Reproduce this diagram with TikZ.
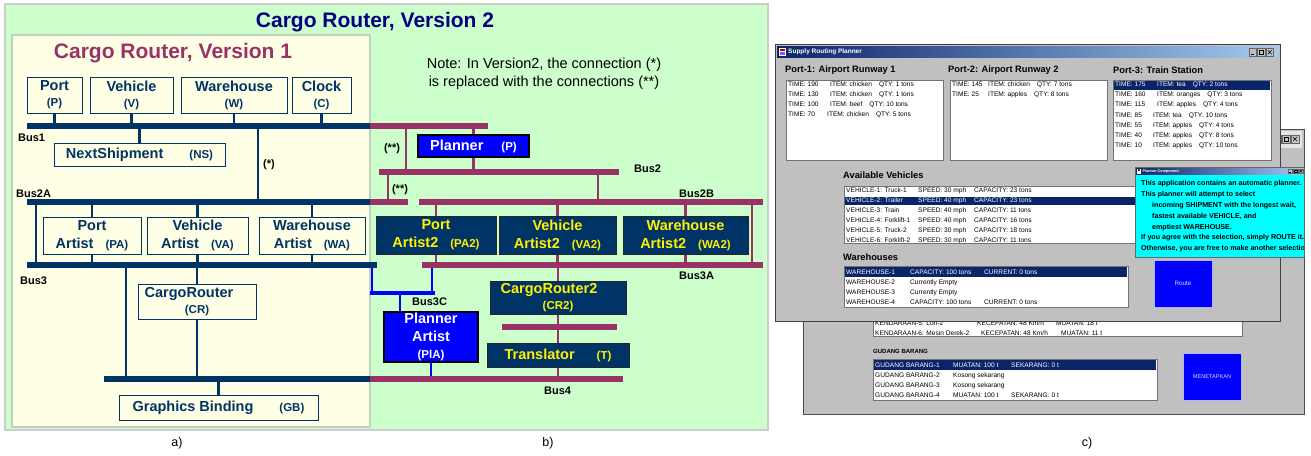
\documentclass[tikz,border=0pt]{standalone}
\usepackage{fontspec}
\setmainfont{Liberation Sans}
\usetikzlibrary{positioning,calc}

\definecolor{mint}{HTML}{CCFFCC}
\definecolor{cream}{HTML}{FFFFE6}
\definecolor{navybus}{HTML}{003366}
\definecolor{plum}{HTML}{993366}
\definecolor{deepnavy}{HTML}{000080}
\definecolor{wingray}{HTML}{C0C0C0}
\definecolor{selrow}{HTML}{0A246A}
\definecolor{capfade}{HTML}{A6CAF0}
\definecolor{aqua}{HTML}{00FFFF}

\newcommand\fsz[2]{\fontsize{#1}{#2}\selectfont}
\newcommand\shortid[1]{{\fsz{11.5}{14}#1}}
\newcommand\colbox[2]{\makebox[#1][l]{#2}}
% minimize / maximize / close buttons of a window: x, y, size
\newcommand\winbtns[3]{%
  \foreach \k in {0,1,2}{\draw[black!60, fill=wingray, line width=0.4pt] ({#1+\k*(#3+1)},#2) rectangle ++(#3,#3);}
  \draw[line width=0.6pt] ({#1+0.25*#3},{#2+0.75*#3}) -- ++({0.45*#3},0);
  \draw[line width=0.5pt] ({#1+#3+1+0.22*#3},{#2+0.22*#3}) rectangle ++({0.56*#3},{0.56*#3});
  \draw[line width=0.6pt] ({#1+2*#3+2+0.25*#3},{#2+0.25*#3}) -- ++({0.5*#3},{0.5*#3})
    ({#1+2*#3+2+0.75*#3},{#2+0.25*#3}) -- ++({-0.5*#3},{0.5*#3});
}

\begin{document}
\begin{tikzpicture}[x=1pt,y=-1pt,
    v1box/.style={draw=navybus, line width=1pt, fill=cream, text=navybus, inner sep=0pt, align=center, font=\fsz{14.5}{18}\bfseries},
    toprow/.style={v1box, font=\fsz{14.5}{16}\bfseries, minimum height=36pt},
    v2box/.style={draw=black!85, line width=1pt, fill=navybus, text=yellow, inner sep=0pt, align=center, font=\fsz{14.5}{18}\bfseries},
    plbox/.style={draw=black, line width=1.3pt, fill=blue, text=white, inner sep=0pt, align=center, font=\fsz{14.5}{18}\bfseries},
    busA/.style={navybus, line width=5.5pt},
    busB/.style={plum, line width=5.5pt},
    wireA/.style={navybus, line width=2.3pt},
    wireB/.style={plum, line width=2.5pt},
    wireC/.style={blue, line width=2.5pt},
    buslbl/.style={font=\fsz{11}{13}\bfseries, inner sep=0pt, anchor=west},
    subcap/.style={font=\fsz{12.5}{15}, inner sep=0pt},
    head/.style={anchor=west, inner sep=0pt, font=\fsz{9.3}{11}\bfseries},
    row/.style={anchor=west, inner sep=0pt, font=\fsz{6.6}{8}},
    lstbox/.style={draw=black!55, fill=white, line width=0.6pt},
    btn/.style={fill=blue, draw=blue!30, line width=1pt, text=white!85!blue, inner sep=0pt}]
\useasboundingbox (0,0) rectangle (1311,455);

% ---------------- panels a) and b)
\draw[black!20, line width=1.5pt, fill=mint] (5,4) rectangle (768,430);
\draw[green!30!black!25, line width=1.5pt, fill=cream] (12,35) rectangle (370,427);
\node[font=\fsz{21}{25}\bfseries, text=deepnavy] (ttl2) at (375,22) {Cargo Router, Version 2};
\node[font=\fsz{21}{25}\bfseries, text=plum] (ttl1) at (173,53.5) {Cargo Router, Version 1};
\node[font=\fsz{14.5}{18}, align=center] (note) at (544,74) {Note: In Version2, the connection (*)\\is replaced with the connections (**)};

% bus end points
\coordinate (b1w) at (27,126);  \coordinate (b1m) at (370,126); \coordinate (b1e) at (488,126);
\coordinate (b2aw) at (27,202); \coordinate (b2am) at (370,202); \coordinate (b2ae) at (408,202);
\coordinate (b2w) at (379,172); \coordinate (b2e) at (619,172);
\coordinate (b2bw) at (419,202); \coordinate (b2be) at (763,202);
\coordinate (b3w) at (27,265);  \coordinate (b3e) at (377,265);
\coordinate (b3aw) at (422,265); \coordinate (b3ae) at (763,265);
\coordinate (b3cw) at (370,293); \coordinate (b3ce) at (435,293);
\coordinate (b4w) at (104,379); \coordinate (b4m) at (370,379); \coordinate (b4e) at (623,379);
\coordinate (b5w) at (502,327); \coordinate (b5e) at (617,327);

% version 1 components
\node[toprow, minimum width=55pt] (port) at (54.5,95) {Port\\\shortid{(P)}};
\node[toprow, minimum width=83pt] (veh) at (131.5,95) {Vehicle\\\shortid{(V)}};
\node[toprow, minimum width=106pt] (wh) at (234,95) {Warehouse\\\shortid{(W)}};
\node[toprow, minimum width=59pt] (clk) at (321.5,95) {Clock\\\shortid{(C)}};
\node[v1box, minimum width=171pt, minimum height=23pt] (ns) at (139.5,154.5) {NextShipment\hspace{26pt}\shortid{(NS)}};
\node[v1box, minimum width=98pt, minimum height=37pt] (pa) at (92,235.5) {Port\\Artist\hspace{12pt}\shortid{(PA)}};
\node[v1box, minimum width=101pt, minimum height=37pt] (va) at (197.5,235.5) {Vehicle\\Artist\hspace{12pt}\shortid{(VA)}};
\node[v1box, minimum width=106pt, minimum height=37pt] (wa) at (312,235.5) {Warehouse\\Artist\hspace{12pt}\shortid{(WA)}};
\node[v1box, font=\fsz{14.5}{16}\bfseries, minimum width=118pt, minimum height=35pt] (cr) at (197,301.5) {CargoRouter\hspace*{16pt}\\\shortid{(CR)}};
\node[v1box, minimum width=199pt, minimum height=25pt] (gb) at (218.5,407.5) {Graphics Binding\hspace{26pt}\shortid{(GB)}};

% version 2 components
\node[plbox, minimum width=111pt, minimum height=22pt] (plan) at (473.5,146) {Planner\hspace{18pt}\shortid{(P)}};
\node[v2box, minimum width=120pt, minimum height=38pt] (pa2) at (436,235) {Port\\Artist2\hspace{12pt}\shortid{(PA2)}};
\node[v2box, minimum width=117pt, minimum height=38pt] (va2) at (557.5,235) {Vehicle\\Artist2\hspace{12pt}\shortid{(VA2)}};
\node[v2box, minimum width=125pt, minimum height=38pt] (wa2) at (685.5,235) {Warehouse\\Artist2\hspace{12pt}\shortid{(WA2)}};
\node[v2box, font=\fsz{14.5}{16}\bfseries, minimum width=136pt, minimum height=33pt] (cr2) at (558,297.5) {CargoRouter2\hspace*{18pt}\\\shortid{(CR2)}};
\node[v2box, minimum width=142pt, minimum height=24pt] (tr) at (558,355) {Translator\hspace{22pt}\shortid{(T)}};
\node[plbox, font=\fsz{14.5}{17.5}\bfseries, minimum width=94pt, minimum height=50pt] (pla) at (431,337) {Planner\\Artist\\\shortid{(PlA)}};

% taps onto the buses
\foreach \n in {port,veh,wh,clk} \draw[wireA] (\n.south) -- (\n.south |- b1w);
\draw[wireA] (ns.north) -- (ns.north |- b1w);
\foreach \n in {pa,va,wa} {
  \draw[wireA] (\n.north) -- (\n.north |- b2aw);
  \draw[wireA] (\n.south) -- (\n.south |- b3w);
}
\draw[wireA] (cr.north) -- (cr.north |- b3w);
\draw[wireA] (cr.south) -- (cr.south |- b4w);
\draw[wireA] (gb.north) -- (gb.north |- b4w);
\draw[wireB] (plan.north) -- (plan.north |- b1w);
\draw[wireB] (plan.south) -- (plan.south |- b2w);
\foreach \n in {pa2,va2,wa2} {
  \draw[wireB] (\n.north) -- (\n.north |- b2bw);
  \draw[wireB] (\n.south) -- (\n.south |- b3aw);
}
\draw[wireB] (cr2.north) -- (cr2.north |- b3aw);
\draw[wireB] (cr2.south) -- (cr2.south |- b5w);
\draw[wireB] (tr.north) -- (tr.north |- b5w);
\draw[wireB] (tr.south) -- (tr.south |- b4w);
\draw[wireC] (pla.south) -- (pla.south |- b4w);

% bus to bus links
\coordinate (lk1) at (36,202);  \draw[wireA] (lk1) -- (lk1 |- b3w);
\coordinate (star) at (258,126); \draw[wireA] (star) -- (star |- b2aw);
\coordinate (lk2) at (126,265); \draw[wireA] (lk2) -- (lk2 |- b4w);
\coordinate (ss1) at (406,126); \draw[wireB] (ss1) -- (ss1 |- b2w);
\coordinate (ss2) at (388,172); \draw[wireB] (ss2) -- (ss2 |- b2aw);
\coordinate (lk3) at (598,172); \draw[wireB] (lk3) -- (lk3 |- b2bw);
\coordinate (lk4) at (752,202); \draw[wireB] (lk4) -- (lk4 |- b3aw);
\coordinate (c3l) at (372,265); \draw[wireC] (c3l) -- (c3l |- b3cw);
\coordinate (c3r) at (432,265); \draw[wireC] (c3r) -- (c3r |- b3cw);
\coordinate (c3m) at (400,293); \draw[wireC] (c3m) -- (c3m |- pla.north);

% buses
\draw[busA] (b1w) -- (b1m);   \draw[busB] (b1m) -- (b1e);
\draw[busA] (b2aw) -- (b2am); \draw[busB] (b2am) -- (b2ae);
\draw[busB] (b2w) -- (b2e);
\draw[busB] (b2bw) -- (b2be);
\draw[busA] (b3w) -- (b3e);
\draw[busB] (b3aw) -- (b3ae);
\draw[blue, line width=4.5pt] (b3cw) -- (b3ce);
\draw[busA] (b4w) -- (b4m);   \draw[busB] (b4m) -- (b4e);
\draw[busB] (b5w) -- (b5e);

% bus names and link marks
\node[buslbl] (lb1) at (18,138) {Bus1};
\node[buslbl] (lb2a) at (16,194) {Bus2A};
\node[buslbl] (lb3) at (20,281) {Bus3};
\node[buslbl] (lb2) at (634,169) {Bus2};
\node[buslbl] (lb2b) at (679,194) {Bus2B};
\node[buslbl] (lb3a) at (679,276) {Bus3A};
\node[buslbl] (lb3c) at (412,302) {Bus3C};
\node[buslbl] (lb4) at (544,391) {Bus4};
\node[buslbl, anchor=center] (mk1) at (269,165) {(*)};
\node[buslbl, anchor=center] (mk2) at (392,149) {(**)};
\node[buslbl, anchor=center] (mk3) at (400,190) {(**)};

\node[subcap] (capa) at (177,443) {a)};
\node[subcap] (capb) at (548,443) {b)};
\node[subcap] (capc) at (1087,443) {c)};

% ---------------- panel c): back window
\draw[black!70, fill=wingray] (803,129) rectangle (1304,414);
\shade[left color=gray!60, right color=gray!20] (805,131) rectangle (1302,147);
\winbtns{1273}{135}{8}
\draw[lstbox] (873,298) rectangle (1242,336);
\node[row] (kr5) at (875,323) {\colbox{102pt}{KENDARAAN-5: Lori-2}\colbox{79pt}{KECEPATAN: 48 Km/h}MUATAN: 18 t};
\node[row] (kr6) at (875,333) {\colbox{106pt}{KENDARAAN-6: Mesin Derek-2}\colbox{80pt}{KECEPATAN: 48 Km/h}MUATAN: 11 t};
\node[anchor=west, inner sep=0pt, font=\fsz{6}{7}\bfseries] (gudh) at (873,351) {GUDANG BARANG};
\draw[lstbox] (873,359) rectangle (1157,400);
\fill[selrow] (874,360) rectangle (1156,370);
\foreach \c/\t [count=\i] in {
    white/{\colbox{78pt}{GUDANG BARANG-1}\colbox{58pt}{MUATAN: 100 t}SEKARANG: 0 t},
    black/{\colbox{78pt}{GUDANG BARANG-2}Kosong sekarang},
    black/{\colbox{78pt}{GUDANG BARANG-3}Kosong sekarang},
    black/{\colbox{78pt}{GUDANG BARANG-4}\colbox{58pt}{MUATAN: 100 t}SEKARANG: 0 t}}
  \node[row, text=\c] (gb\i) at (875,{355.3+10*\i}) {\t};
\node[btn, minimum width=58pt, minimum height=47pt, font=\fsz{5.6}{7}] (menet) at (1212,376.5) {MENETAPKAN};

% front window
\draw[black!75, fill=wingray] (775,44) rectangle (1280,321);
\shade[left color=selrow, right color=capfade] (777,46) rectangle (1278,57);
\fill[white] (779,47.5) rectangle (786,55.5);
\fill[red!70!black] (780,48.5) rectangle (785,51);
\fill[blue!60] (780,52) rectangle (785,54.5);
\node[anchor=west, inner sep=0pt, text=white, font=\fsz{6.5}{8}\bfseries] (wtitle) at (788,51.5) {Supply Routing Planner};
\winbtns{1249}{48.5}{7.5}

\node[head] (h1) at (785,70.5) {Port-1: Airport Runway 1};
\node[head] (h2) at (948,70.5) {Port-2: Airport Runway 2};
\node[head] (h3) at (1113,70.5) {Port-3: Train Station};
\draw[lstbox] (786,80) rectangle (943,160);
\draw[lstbox] (950,80) rectangle (1107,160);
\draw[lstbox] (1113,80) rectangle (1271,160);
\foreach \t [count=\i] in {
    {\colbox{42pt}{TIME: 190}ITEM: chicken\hspace{7pt}QTY: 1 tons},
    {\colbox{42pt}{TIME: 130}ITEM: chicken\hspace{7pt}QTY: 1 tons},
    {\colbox{42pt}{TIME: 100}ITEM: beef\hspace{7pt}QTY: 10 tons},
    {\colbox{39pt}{TIME: 70}ITEM: chicken\hspace{7pt}QTY: 5 tons}}
  \node[row] (pa\i) at (788,{75+10*\i}) {\t};
\foreach \t [count=\i] in {
    {\colbox{36pt}{TIME: 145}ITEM: chicken\hspace{7pt}QTY: 7 tons},
    {\colbox{36pt}{TIME: 25}ITEM: apples\hspace{7pt}QTY: 8 tons}}
  \node[row] (pb\i) at (952,{75+10*\i}) {\t};
\fill[selrow] (1114,81) rectangle (1270,89.5);
\foreach \c/\t [count=\i] in {
    white/{\colbox{42pt}{TIME: 175}ITEM: tea\hspace{7pt}QTY: 2 tons},
    black/{\colbox{42pt}{TIME: 160}ITEM: oranges\hspace{7pt}QTY: 3 tons},
    black/{\colbox{42pt}{TIME: 115}ITEM: apples\hspace{7pt}QTY: 4 tons},
    black/{\colbox{38pt}{TIME: 85}ITEM: tea\hspace{7pt}QTY: 10 tons},
    black/{\colbox{38pt}{TIME: 55}ITEM: apples\hspace{7pt}QTY: 4 tons},
    black/{\colbox{38pt}{TIME: 40}ITEM: apples\hspace{7pt}QTY: 8 tons},
    black/{\colbox{38pt}{TIME: 10}ITEM: apples\hspace{7pt}QTY: 10 tons}}
  \node[row, text=\c] (pc\i) at (1115,{74.6+10.2*\i}) {\t};

\node[head] (hv) at (843,175.5) {Available Vehicles};
\draw[lstbox] (844,186) rectangle (1140,243);
\begin{scope}
  \clip (845,187) rectangle (1140,242.5);
  \fill[selrow] (845,196.5) rectangle (1140,205.3);
  \foreach \c/\t [count=\i] in {
      black/{\colbox{72pt}{VEHICLE-1: Truck-1}\colbox{56pt}{SPEED: 30 mph}CAPACITY: 23 tons},
      white/{\colbox{72pt}{VEHICLE-2: Trailer}\colbox{56pt}{SPEED: 40 mph}CAPACITY: 23 tons},
      black/{\colbox{72pt}{VEHICLE-3: Train}\colbox{56pt}{SPEED: 40 mph}CAPACITY: 11 tons},
      black/{\colbox{72pt}{VEHICLE-4: Forklift-1}\colbox{56pt}{SPEED: 40 mph}CAPACITY: 16 tons},
      black/{\colbox{72pt}{VEHICLE-5: Truck-2}\colbox{56pt}{SPEED: 30 mph}CAPACITY: 18 tons},
      black/{\colbox{72pt}{VEHICLE-6: Forklift-2}\colbox{56pt}{SPEED: 30 mph}CAPACITY: 11 tons}}
    \node[row, text=\c] (vr\i) at (846,{181+10*\i}) {\t};
\end{scope}

\node[head] (hw) at (843,257.5) {Warehouses};
\draw[lstbox] (844,266) rectangle (1128,307);
\fill[selrow] (845,267) rectangle (1127,277);
\foreach \c/\t [count=\i] in {
    white/{\colbox{64pt}{WAREHOUSE-1}\colbox{74pt}{CAPACITY: 100 tons}CURRENT: 0 tons},
    black/{\colbox{64pt}{WAREHOUSE-2}Currently Empty},
    black/{\colbox{64pt}{WAREHOUSE-3}Currently Empty},
    black/{\colbox{64pt}{WAREHOUSE-4}\colbox{74pt}{CAPACITY: 100 tons}CURRENT: 0 tons}}
  \node[row, text=\c] (wr\i) at (846,{262.5+10*\i}) {\t};
\node[btn, minimum width=58pt, minimum height=47pt, font=\fsz{6.3}{7.5}] (route) at (1183,283.5) {Route};

% planner dialog
\draw[black!60, fill=aqua] (1135,167) rectangle (1304,257);
\shade[left color=selrow, right color=capfade] (1136,168) rectangle (1303,174.5);
\fill[white] (1137,168.5) rectangle (1141,173.5);
\fill[red!70!black] (1137.8,169.2) rectangle (1140.2,171);
\node[anchor=west, inner sep=0pt, text=white, font=\fsz{3.8}{4.5}\bfseries] (dtitle) at (1142.5,171.2) {Planner Component};
\winbtns{1288}{169}{4.5}
\begin{scope}
  \clip (1136,175) rectangle (1303,256);
  \foreach \x/\t [count=\i] in {
      1141/{This application contains an automatic planner.},
      1141/{This planner will attempt to select},
      1152/{incoming SHIPMENT with the longest wait,},
      1152/{fastest available VEHICLE, and},
      1152/{emptiest WAREHOUSE.},
      1141/{If you agree with the selection, simply ROUTE it.},
      1141/{Otherwise, you are free to make another selection.}}
    \node[anchor=west, inner sep=0pt, font=\fsz{7.1}{8.5}\bfseries] (dl\i) at (\x,{173.2+10.8*\i}) {\t};
\end{scope}
\end{tikzpicture}
\end{document}
